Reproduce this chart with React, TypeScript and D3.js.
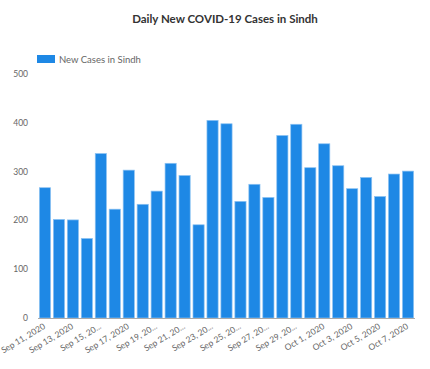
import React, { useEffect, useRef } from 'react';
import * as d3 from 'd3';

const days = [
  'Sep 11', 'Sep 12', 'Sep 13', 'Sep 14', 'Sep 15', 'Sep 16', 'Sep 17', 'Sep 18', 'Sep 19',
  'Sep 20', 'Sep 21', 'Sep 22', 'Sep 23', 'Sep 24', 'Sep 25', 'Sep 26', 'Sep 27', 'Sep 28',
  'Sep 29', 'Sep 30', 'Oct 1', 'Oct 2', 'Oct 3', 'Oct 4', 'Oct 5', 'Oct 6', 'Oct 7',
];
const newCases = [
  267, 202, 201, 163, 337, 223, 303, 233, 260, 317, 292, 191, 405, 398,
  239, 274, 247, 374, 397, 308, 357, 312, 265, 288, 249, 295, 301,
];
// shown labels (every second day), as truncated in the original
const tickLabels = [
  'Sep 11, 2020', 'Sep 13, 2020', 'Sep 15, 20...', 'Sep 17, 2020', 'Sep 19, 20...',
  'Sep 21, 20...', 'Sep 23, 20...', 'Sep 25, 20...', 'Sep 27, 20...', 'Sep 29, 20...',
  'Oct 1, 2020', 'Oct 3, 2020', 'Oct 5, 2020', 'Oct 7, 2020',
];
const yTicks = [0, 100, 200, 300, 400, 500];

const W = 430;
const H = 369;

const App = () => {
  const svgRef = useRef<SVGSVGElement>(null);

  useEffect(() => {
    document.body.style.margin = '0';
    const margin = { top: 74, right: 15, bottom: 51, left: 38 };
    const width = W - margin.left - margin.right;
    const height = H - margin.top - margin.bottom;
    const font = 'Lato, "Open Sans", sans-serif';

    const root = d3.select(svgRef.current);
    root.selectAll('*').remove();

    // Title
    root.append('text')
      .attr('x', 225)
      .attr('y', 23)
      .attr('text-anchor', 'middle')
      .style('font-family', font)
      .style('font-size', '11.5px')
      .style('font-weight', 'bold')
      .style('fill', '#333')
      .text('Daily New COVID-19 Cases in Sindh');

    // Legend
    root.append('rect')
      .attr('x', 37).attr('y', 55).attr('width', 18).attr('height', 8)
      .attr('fill', '#1E88E5');
    root.append('text')
      .attr('x', 59).attr('y', 62.5)
      .style('font-family', font)
      .style('font-size', '9.5px')
      .style('fill', '#666')
      .text('New Cases in Sindh');

    const svg = root.append('g')
      .attr('transform', `translate(${margin.left},${margin.top})`);

    const x = d3.scaleBand<string>()
      .domain(days)
      .range([0, width])
      .paddingInner(0.2)
      .paddingOuter(0.1);

    const y = d3.scaleLinear().domain([0, 500]).range([height, 0]);

    // Y axis labels
    svg.append('g')
      .selectAll('text')
      .data(yTicks)
      .enter()
      .append('text')
      .attr('x', -10)
      .attr('y', d => y(d) + 3)
      .attr('text-anchor', 'end')
      .style('font-family', font)
      .style('font-size', '8.5px')
      .style('fill', '#666')
      .text(d => d);

    // Bars
    svg.selectAll('.bar')
      .data(newCases)
      .enter()
      .append('rect')
      .attr('class', 'bar')
      .attr('x', (d, i) => x(days[i])!)
      .attr('y', d => y(d))
      .attr('width', x.bandwidth())
      .attr('height', d => height - y(d))
      .attr('fill', '#1E88E5')
      .attr('stroke', '#8cc2f2')
      .attr('stroke-width', 0.7);

    // X axis line
    svg.append('line')
      .attr('x1', 0).attr('x2', width)
      .attr('y1', height + 0.5).attr('y2', height + 0.5)
      .attr('stroke', '#aaa');

    // X labels (every second day)
    svg.append('g')
      .selectAll('text')
      .data(tickLabels)
      .enter()
      .append('text')
      .attr('transform', (d, i) => {
        const cx = x(days[i * 2])! + x.bandwidth() / 2 + 1;
        return `translate(${cx},${height + 10}) rotate(-31)`;
      })
      .attr('text-anchor', 'end')
      .style('font-family', font)
      .style('font-size', '8.5px')
      .style('fill', '#666')
      .text(d => d);
  }, []);

  return <svg ref={svgRef} width={W} height={H} style={{ display: 'block' }}></svg>;
};

export default App;
